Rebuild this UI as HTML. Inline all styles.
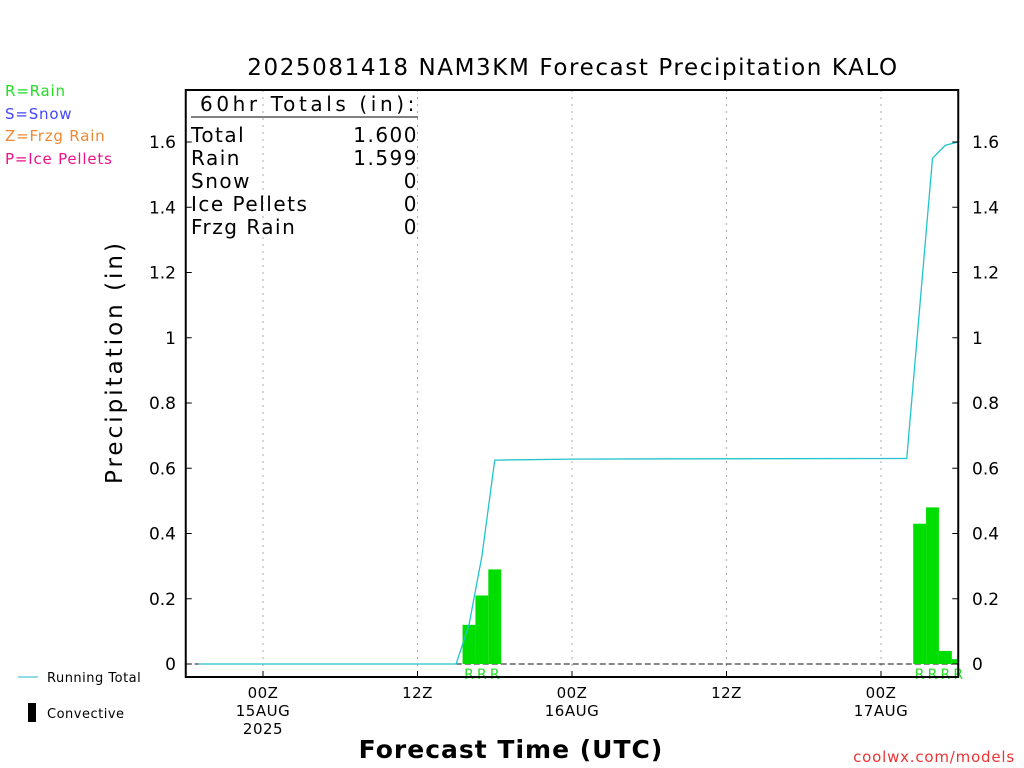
<!DOCTYPE html>
<html><head><meta charset="utf-8"><style>
body{margin:0;background:#fff;}
svg{display:block;font-family:"DejaVu Sans","Liberation Sans",sans-serif;}
</style></head><body>
<svg id="c" width="1024" height="768">
<text x="573" y="75" font-size="23" text-anchor="middle" letter-spacing="1.6">2025081418 NAM3KM Forecast Precipitation KALO</text>
<g font-size="15">
<text x="5" y="96" fill="#22dd22" letter-spacing="0.8">R=Rain</text>
<text x="5" y="119" fill="#4444ff" letter-spacing="0.8">S=Snow</text>
<text x="5" y="141" fill="#ee8833" letter-spacing="0.8">Z=Frzg Rain</text>
<text x="5" y="164" fill="#ee1188" letter-spacing="0.8">P=Ice Pellets</text>
</g>
<text transform="translate(122,362) rotate(-90)" font-size="23" text-anchor="middle" letter-spacing="3">Precipitation (in)</text>
<text x="511" y="758" font-size="25" text-anchor="middle" font-weight="bold" letter-spacing="1">Forecast Time (UTC)</text>
<text x="1015" y="762" font-size="15" fill="#ee3333" text-anchor="end" letter-spacing="0.8">coolwx.com/models</text>
<line x1="18" y1="677" x2="38" y2="677" stroke="#22bbcc"/>
<text x="47" y="682" font-size="13" letter-spacing="0.5">Running Total</text>
<rect x="28" y="703" width="8" height="19" fill="#000"/>
<text x="47" y="718" font-size="13" letter-spacing="0.5">Convective</text>
<g id="grid"></g><g id="marks"></g><g id="axes"></g>
<g font-size="20" letter-spacing="1.5">
<text x="200" y="111" letter-spacing="3.6">60hr Totals (in):</text>
<line x1="191" y1="117" x2="418" y2="117" stroke="#000"/>
<text x="191" y="142">Total</text><text x="418" y="142" text-anchor="end">1.600</text>
<text x="191" y="165">Rain</text><text x="418" y="165" text-anchor="end">1.599</text>
<text x="191" y="188">Snow</text><text x="418" y="188" text-anchor="end">0</text>
<text x="191" y="211">Ice Pellets</text><text x="418" y="211" text-anchor="end">0</text>
<text x="191" y="234">Frzg Rain</text><text x="418" y="234" text-anchor="end">0</text>
</g>
</svg>
<script>
const barHours=[22,23,24,57,58,59,60];
const barValues=[0.12,0.21,0.29,0.43,0.48,0.04,0.015];
const totalHours=[1,21,22,23,24,30,40,56,57,58,59,60];
const totalValues=[0,0,0.12,0.33,0.625,0.628,0.629,0.63,1.09,1.55,1.59,1.60];
const yTicks=[0,0.2,0.4,0.6,0.8,1,1.2,1.4,1.6];
const yTickLabels=["0","0.2","0.4","0.6","0.8","1","1.2","1.4","1.6"];
const xTickHours=[6,18,30,42,54];
const xTickLabels=[["00Z","15AUG","2025"],["12Z"],["00Z","16AUG"],["12Z"],["00Z","17AUG"]];
const L=185.75,R=958.25,T=90,B=677;
const x=h=>L+h*(R-L)/60;
const y=v=>664-v*326.25;
const NS="http://www.w3.org/2000/svg";
function mk(t,a,p){const e=document.createElementNS(NS,t);for(const k in a)e.setAttribute(k,a[k]);p.appendChild(e);return e;}
const grid=document.getElementById('grid'),marks=document.getElementById('marks'),axes=document.getElementById('axes');
xTickHours.forEach((h,i)=>{
 const g=mk('line',{x1:x(h),x2:x(h),y1:T,y2:B,stroke:'#aaa','stroke-dasharray':'2,5'},grid);
 
 
 mk('line',{x1:x(h),x2:x(h),y1:B,y2:B-6,stroke:'#000'},axes);
 xTickLabels[i].forEach((s,j)=>{
  const tx=mk('text',{x:x(h),y:698+j*18,'font-size':15,'text-anchor':'middle','letter-spacing':0.5},axes);
  tx.textContent=s;
  
  
 });
});
mk('line',{x1:L,x2:R,y1:y(0),y2:y(0),stroke:'#111','stroke-dasharray':'6,3'},grid);
barHours.forEach((h,i)=>{
 const x0=x(h-0.5),x1=Math.min(x(h+0.5),R);
 const r=mk('rect',{x:x0,y:y(barValues[i]),width:x1-x0,height:y(0)-y(barValues[i]),fill:'#00dd00'},marks);
 
 
 const t=mk('text',{x:x(h),y:679,'font-size':14,fill:'#22dd22','text-anchor':'middle'},marks);
 t.textContent='R';
 
 
});
const pl=mk('polyline',{points:totalHours.map((h,i)=>x(h)+','+y(totalValues[i])).join(' '),fill:'none',stroke:'#22c4cc','stroke-width':1.3},marks);


const fr=mk('rect',{x:L,y:T,width:R-L,height:B-T,fill:'none',stroke:'#000','stroke-width':2},axes);


yTicks.forEach((v,i)=>{
 mk('line',{x1:L,x2:L+6,y1:y(v),y2:y(v),stroke:'#000'},axes);
 mk('line',{x1:R,x2:R-6,y1:y(v),y2:y(v),stroke:'#000'},axes);
 const a=mk('text',{x:176,y:y(v)+6,'font-size':17,'text-anchor':'end'},axes);
 a.textContent=yTickLabels[i];
 
 
 const b=mk('text',{x:972,y:y(v)+6,'font-size':17},axes);
 b.textContent=yTickLabels[i];
 
 
});
</script>
</body></html>
